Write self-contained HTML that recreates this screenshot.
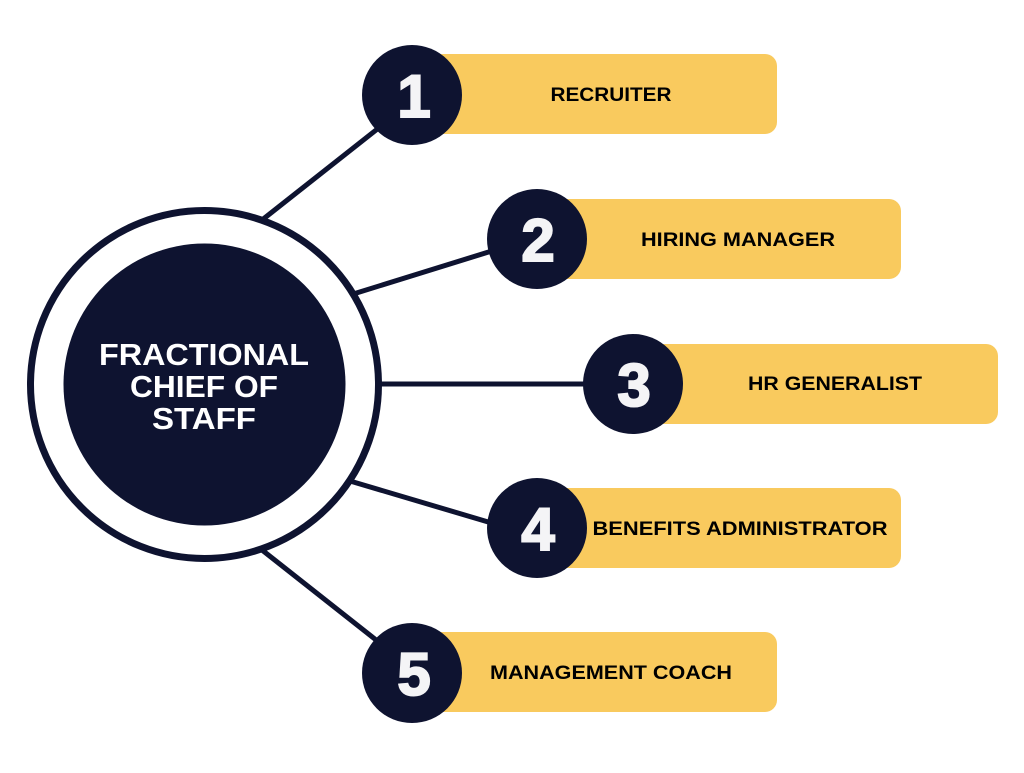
<!DOCTYPE html>
<html><head><style>
body{margin:0;background:#fff;}
svg text{font-family:"Liberation Sans",sans-serif;font-weight:bold;}
</style></head><body>
<svg width="1024" height="768" viewBox="0 0 1024 768" xmlns="http://www.w3.org/2000/svg">
<g stroke="#0e1330" stroke-width="5">
<line x1="262" y1="220" x2="385" y2="123"/>
<line x1="350" y1="295" x2="495" y2="250"/>
<line x1="380" y1="384" x2="590" y2="384"/>
<line x1="350" y1="481" x2="495" y2="524"/>
<line x1="262" y1="550" x2="385" y2="647"/>
</g>
<circle cx="204.5" cy="384.5" r="174" fill="#fff" stroke="#0e1330" stroke-width="7"/>
<circle cx="204.5" cy="384.5" r="141" fill="#0e1330"/>
<g fill="#fff" font-size="31" text-anchor="middle" lengthAdjust="spacingAndGlyphs">
<text x="204" y="365" textLength="210" lengthAdjust="spacingAndGlyphs">FRACTIONAL</text>
<text x="204" y="397" textLength="148" lengthAdjust="spacingAndGlyphs">CHIEF OF</text>
<text x="204" y="429" textLength="104" lengthAdjust="spacingAndGlyphs">STAFF</text>
</g>
<g fill="#f9ca5e">
<rect x="430" y="54" width="347" height="80" rx="12"/>
<rect x="555" y="199" width="346" height="80" rx="12"/>
<rect x="650" y="344" width="348" height="80" rx="12"/>
<rect x="555" y="488" width="346" height="80" rx="12"/>
<rect x="430" y="632" width="347" height="80" rx="12"/>
</g>
<g fill="#0e1330">
<circle cx="412" cy="95" r="50"/>
<circle cx="537" cy="239" r="50"/>
<circle cx="633" cy="384" r="50"/>
<circle cx="537" cy="528" r="50"/>
<circle cx="412" cy="673" r="50"/>
</g>
<g fill="#f4f4f6" font-size="60" text-anchor="middle" stroke="#f4f4f6" stroke-width="2">
<text x="414" y="117">1</text>
<text x="538" y="261">2</text>
<text x="634" y="406">3</text>
<text x="538" y="550">4</text>
<text x="414" y="695">5</text>
</g>
<g fill="#000" font-size="19" text-anchor="middle">
<text x="611" y="101" textLength="121" lengthAdjust="spacingAndGlyphs">RECRUITER</text>
<text x="738" y="246" textLength="194" lengthAdjust="spacingAndGlyphs">HIRING MANAGER</text>
<text x="835" y="390" textLength="174" lengthAdjust="spacingAndGlyphs">HR GENERALIST</text>
<text x="740" y="535" textLength="295" lengthAdjust="spacingAndGlyphs">BENEFITS ADMINISTRATOR</text>
<text x="611" y="679" textLength="242" lengthAdjust="spacingAndGlyphs">MANAGEMENT COACH</text>
</g>
</svg>
</body></html>
